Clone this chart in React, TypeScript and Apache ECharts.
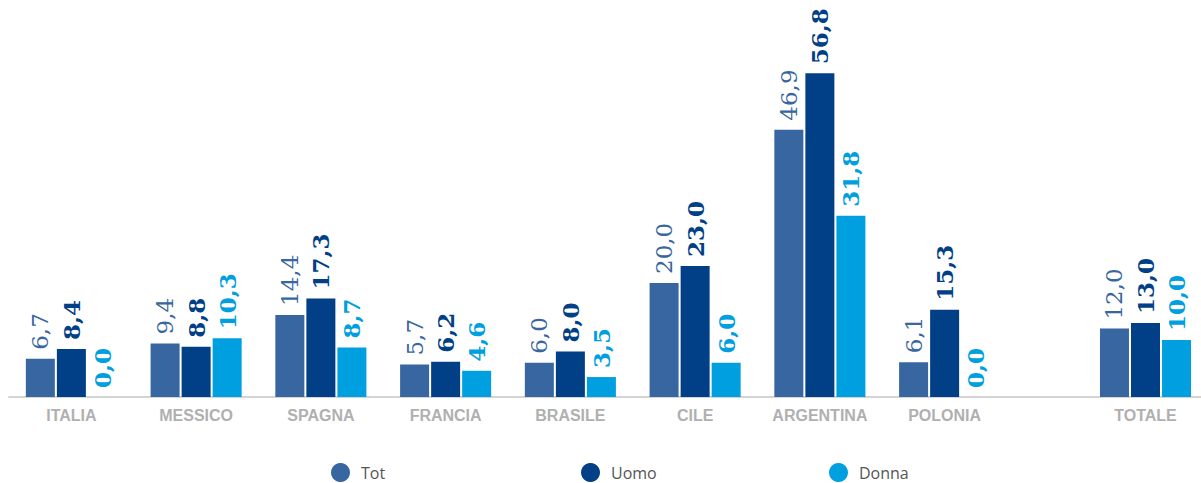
import React, { useEffect, useRef } from "react";
import * as echarts from "echarts";

// Country groups (left block) and the overall total (right block)
const countries = ["ITALIA", "MESSICO", "SPAGNA", "FRANCIA", "BRASILE", "CILE", "ARGENTINA", "POLONIA"];
const totalCategories = ["", "TOTALE"];

const totValues = [6.7, 9.4, 14.4, 5.7, 6.0, 20.0, 46.9, 6.1];
const uomoValues = [8.4, 8.8, 17.3, 6.2, 8.0, 23.0, 56.8, 15.3];
const donnaValues = [0.0, 10.3, 8.7, 4.6, 3.5, 6.0, 31.8, 0.0];

const totTotal = 12.0;
const uomoTotal = 13.0;
const donnaTotal = 10.0;

const seriesNames = ["Tot", "Uomo", "Donna"];
const colors = ["#3766a1", "#013f87", "#009fe0"];
const labelWeights = ["normal", "bold", "bold"];

const fmt = (v: number) => v.toFixed(1).replace(".", ",");

export default function App() {
  const ref = useRef<HTMLDivElement>(null);

  useEffect(() => {
    if (!ref.current) return;
    const chart = echarts.init(ref.current, null, { renderer: "svg" });

    const countryData = [totValues, uomoValues, donnaValues];
    const totalData = [totTotal, uomoTotal, donnaTotal];

    const makeLabel = (i: number) => ({
      show: true,
      position: "top",
      rotate: 90,
      align: "left",
      verticalAlign: "middle",
      distance: 9,
      color: colors[i],
      fontFamily: "'DejaVu Serif', serif",
      fontSize: 23,
      fontWeight: labelWeights[i],
      formatter: (p: any) => fmt(p.value),
    });

    const series: any[] = [];
    seriesNames.forEach((name, i) => {
      series.push({
        name,
        type: "bar",
        xAxisIndex: 0,
        yAxisIndex: 0,
        barWidth: 29,
        barGap: "7%",
        itemStyle: { color: colors[i] },
        label: makeLabel(i),
        data: countryData[i],
      });
    });
    seriesNames.forEach((name, i) => {
      series.push({
        name,
        type: "bar",
        xAxisIndex: 1,
        yAxisIndex: 1,
        barWidth: 29,
        barGap: "7%",
        itemStyle: { color: colors[i] },
        label: makeLabel(i),
        data: ["-", totalData[i]],
      });
    });

    const xAxisCommon = {
      type: "category",
      axisTick: { show: false },
      axisLine: { show: true, lineStyle: { color: "#d4d4d4", width: 2 } },
      axisLabel: {
        color: "#b0b0b0",
        fontFamily: "'Liberation Sans', Arial, sans-serif",
        fontWeight: "bold",
        fontSize: 16,
        margin: 10,
      },
    };
    const yAxisCommon = {
      type: "value",
      min: 0,
      max: 60,
      show: false,
    };

    const legendPos = [331, 581, 829];

    chart.setOption({
      animation: false,
      color: colors,
      grid: [
        { left: 9, width: 998, top: 55, height: 342 },
        { left: 979, width: 222, top: 55, height: 342 },
      ],
      xAxis: [
        { ...xAxisCommon, gridIndex: 0, data: countries },
        { ...xAxisCommon, gridIndex: 1, data: totalCategories },
      ],
      yAxis: [
        { ...yAxisCommon, gridIndex: 0 },
        { ...yAxisCommon, gridIndex: 1 },
      ],
      legend: seriesNames.map((name, i) => ({
        data: [name],
        left: legendPos[i],
        top: 463,
        padding: 0,
        icon: "circle",
        itemWidth: 19,
        itemHeight: 19,
        itemGap: 0,
        textStyle: {
          color: "#555555",
          fontFamily: "'Open Sans', sans-serif",
          fontSize: 16,
          lineHeight: 19,
          padding: [0, 0, 0, 6],
        },
        selectedMode: false,
      })),
      series,
    });

    return () => chart.dispose();
  }, []);

  return (
    <div
      ref={ref}
      style={{ position: "absolute", left: 0, top: 0, width: 1201, height: 483 }}
    />
  );
}
